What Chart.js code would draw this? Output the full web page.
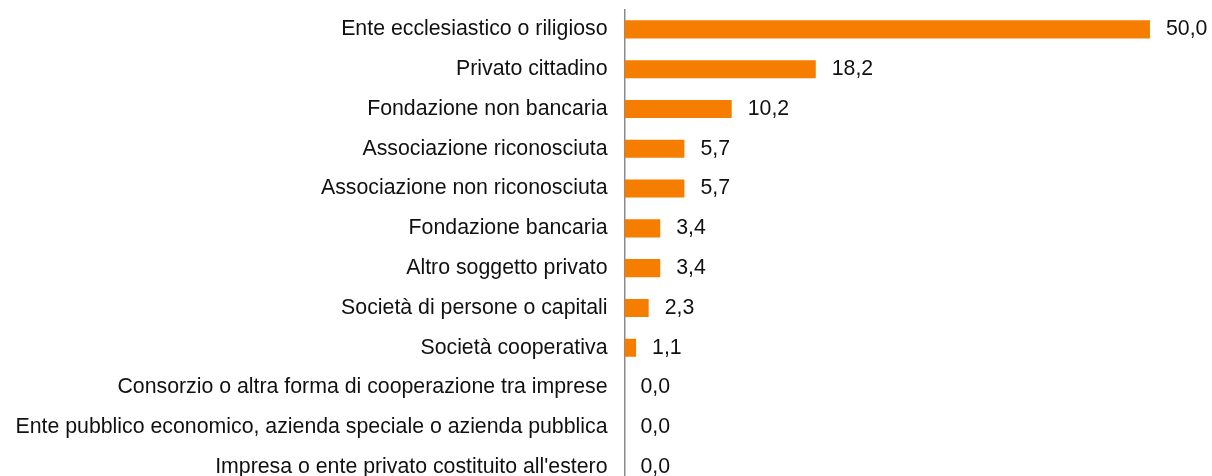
<!DOCTYPE html>
<html>
<head>
<meta charset="utf-8">
<script src="https://cdn.jsdelivr.net/npm/chart.js@4"></script>
<style>
  html, body { margin: 0; padding: 0; background: #fff; overflow: hidden; }
  canvas { display: block; }
</style>
</head>
<body>
<canvas id="myChart" width="1212" height="487"></canvas>
<script>
// categorie (dall'alto verso il basso)
var labels = [
  'Ente ecclesiastico o riligioso',
  'Privato cittadino',
  'Fondazione non bancaria',
  'Associazione riconosciuta',
  'Associazione non riconosciuta',
  'Fondazione bancaria',
  'Altro soggetto privato',
  'Società di persone o capitali',
  'Società cooperativa',
  'Consorzio o altra forma di cooperazione tra imprese',
  'Ente pubblico economico, azienda speciale o azienda pubblica',
  "Impresa o ente privato costituito all'estero"
];
var values = [50.0, 18.2, 10.2, 5.7, 5.7, 3.4, 3.4, 2.3, 1.1, 0.0, 0.0, 0.0];

var FONT = '"Liberation Sans", Arial, sans-serif';
var FSIZE = 21.3;

// etichette con il valore accanto alla barra
var valueLabels = {
  id: 'valueLabels',
  afterDatasetsDraw: function(chart) {
    var ctx = chart.ctx;
    var meta = chart.getDatasetMeta(0);
    ctx.save();
    ctx.font = FSIZE + 'px ' + FONT;
    ctx.fillStyle = '#111';
    ctx.textAlign = 'left';
    ctx.textBaseline = 'middle';
    meta.data.forEach(function(bar, i) {
      var txt = values[i].toFixed(1).replace('.', ',');
      ctx.fillText(txt, bar.x + 16, bar.y);
    });
    ctx.restore();
  }
};

var myData = {
  labels: labels,
  datasets: [{
    data: values,
    backgroundColor: '#F57D00',
    borderWidth: 0,
    categoryPercentage: 1,
    barPercentage: 0.455
  }]
};

var myConfig = {
  type: 'bar',
  data: myData,
  plugins: [valueLabels],
  options: {
    indexAxis: 'y',
    responsive: false,
    animation: false,
    layout: { padding: { top: 9.5, right: 9.5, bottom: 0, left: 0 } },
    plugins: {
      legend: { display: false },
      tooltip: { enabled: false }
    },
    scales: {
      x: {
        display: false,
        min: 0,
        max: 55
      },
      y: {
        grid: { display: false, drawTicks: false },
        border: { display: true, color: '#8a8a8a', width: 1.5 },
        ticks: {
          color: '#111',
          padding: 17,
          font: { family: FONT, size: FSIZE }
        },
        afterFit: function(scale) {
          scale.width = 624.5;
          scale.paddingTop = 0;
          scale.paddingBottom = 0;
        }
      }
    }
  }
};

var ctx1 = document.getElementById('myChart').getContext('2d');
var myBar = new Chart(ctx1, myConfig);
</script>
</body>
</html>
